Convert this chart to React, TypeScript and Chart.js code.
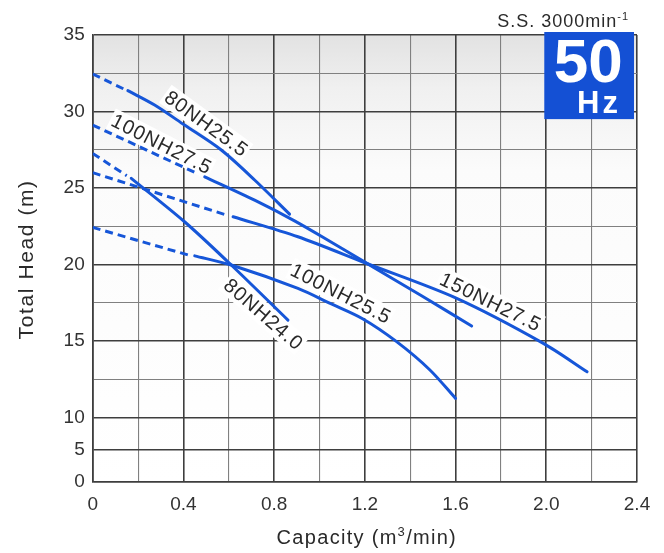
import React, { useEffect, useRef } from 'react';
import { Chart, registerables, LinearScale } from 'chart.js';

Chart.register(...registerables);

// ---------- data ----------
const X_TICKS = [0, 0.2, 0.4, 0.6, 0.8, 1.0, 1.2, 1.4, 1.6, 1.8, 2.0, 2.2, 2.4];
const X_TICK_LABELS = ['0', '', '0.4', '', '0.8', '', '1.2', '', '1.6', '', '2.0', '', '2.4'];
const Y_TICKS = [0, 5, 10, 12.5, 15, 17.5, 20, 22.5, 25, 27.5, 30, 32.5, 35];
const Y_TICK_LABELS = ['0', '5', '10', '', '15', '', '20', '', '25', '', '30', '', '35'];

// [capacity m3/min, total head m]
const DASH_80NH255 = [[0, 32.45], [0.15, 31.38]];
const SOLID_80NH255 = [[0.155, 31.36], [0.273, 30.42], [0.405, 29.11], [0.567, 27.48], [0.714, 25.52], [0.868, 23.29]];

const DASH_100NH275 = [[0, 29.11], [0.46, 25.95]];
const SOLID_100NH275 = [[0.494, 25.73], [0.714, 24.2], [0.89, 22.85], [1.047, 21.5], [1.2, 20.15], [1.45, 17.95], [1.671, 15.97]];

const DASH_150NH275 = [[0, 26.0], [0.6, 23.18]];
const SOLID_150NH275 = [[0.619, 23.12], [0.905, 21.81], [1.2, 20.11], [1.605, 17.78], [1.987, 14.84], [2.18, 12.98]];

const DASH_80NH240 = [[0, 27.26], [0.15, 25.8]];
const SOLID_80NH240 = [[0.17, 25.63], [0.405, 22.79], [0.611, 19.96], [0.861, 16.36]];

const DASH_100NH255 = [[0, 22.42], [0.42, 20.62]];
const SOLID_100NH255 = [[0.45, 20.56], [0.611, 19.96], [0.905, 18.43], [1.047, 17.45], [1.19, 16.45], [1.34, 14.95], [1.487, 13.1], [1.6, 11.24]];

const SERIES_NAMES = ['80NH25.5', '100NH27.5', '150NH27.5', '80NH24.0', '100NH25.5'];
const SERIES_DASH = [DASH_80NH255, DASH_100NH275, DASH_150NH275, DASH_80NH240, DASH_100NH255];
const SERIES_SOLID = [SOLID_80NH255, SOLID_100NH275, SOLID_150NH275, SOLID_80NH240, SOLID_100NH255];

// curve label anchors (data coordinates) and text angles
const LABEL_Q = [0.5, 0.3025, 1.753, 0.752, 1.093];
const LABEL_H = [29.22, 27.87, 17.56, 16.75, 18.1];
const LABEL_ANGLE = [36, 27, 26, 41, 27];

const SPEED_TEXT = 'S.S. 3000min';
const SPEED_SUP = '-1';
const FREQ_MAIN = '50';
const FREQ_UNIT = 'Hz';
const FREQ_BOX_Q = [2.0, 2.4];
const FREQ_BOX_BOTTOM_H = 29.5;

// ---------- styles ----------
const FONT = "'Liberation Sans', Arial, Helvetica, sans-serif";
const BLUE = '#1656d8';
const BOX_BLUE = '#1450d4';
const MAJOR = '#3e3e3e';
const MINOR = '#808080';
const TEXT = '#2a2a2a';

// ---------- broken head scale (0–10 compressed) ----------
const BREAK_VALUE = 10;
const BREAK_SHARE = 0.144;

function headToDecimal(v: number, min: number, max: number) {
  if (v <= BREAK_VALUE) return ((v - min) / (BREAK_VALUE - min)) * BREAK_SHARE;
  return BREAK_SHARE + ((v - BREAK_VALUE) / (max - BREAK_VALUE)) * (1 - BREAK_SHARE);
}
function decimalToHead(d: number, min: number, max: number) {
  if (d <= BREAK_SHARE) return min + (d / BREAK_SHARE) * (BREAK_VALUE - min);
  return BREAK_VALUE + ((d - BREAK_SHARE) / (1 - BREAK_SHARE)) * (max - BREAK_VALUE);
}

class HeadScale extends LinearScale {
  static id = 'head';
  static defaults = LinearScale.defaults;
  buildTicks() {
    (this as any).start = (this as any).min;
    (this as any).end = (this as any).max;
    return Y_TICKS.map((value) => ({ value }));
  }
  getPixelForValue(value: number) {
    return (this as any).getPixelForDecimal(headToDecimal(value, (this as any).min, (this as any).max));
  }
  getValueForPixel(pixel: number) {
    return decimalToHead((this as any).getDecimalForPixel(pixel), (this as any).min, (this as any).max);
  }
}
Chart.register(HeadScale as any);

function drawSpaced(ctx: CanvasRenderingContext2D, text: string, x: number, y: number, spacing: string) {
  (ctx as any).letterSpacing = spacing;
  ctx.fillText(text, x, y);
  (ctx as any).letterSpacing = '0px';
}

const decorPlugin = {
  id: 'decor',
  beforeDraw(chart: any) {
    const { ctx, chartArea: a } = chart;
    ctx.save();
    const g = ctx.createLinearGradient(0, a.top, 0, a.bottom);
    g.addColorStop(0, '#e2e2e2');
    g.addColorStop(0.12, '#f0f0f0');
    g.addColorStop(0.3, '#fbfbfb');
    g.addColorStop(1, '#ffffff');
    ctx.fillStyle = g;
    ctx.fillRect(a.left, a.top, a.right - a.left, a.bottom - a.top);
    ctx.restore();
  },
  beforeDatasetsDraw(chart: any) {
    const { ctx } = chart;
    const x = chart.scales.x;
    const y = chart.scales.y;
    ctx.save();
    ctx.font = `20px ${FONT}`;
    ctx.textAlign = 'left';
    ctx.textBaseline = 'middle';
    (ctx as any).letterSpacing = '1px';
    SERIES_NAMES.forEach((name, i) => {
      const px = x.getPixelForValue(LABEL_Q[i]);
      const py = y.getPixelForValue(LABEL_H[i]);
      ctx.save();
      ctx.translate(px, py);
      ctx.rotate((LABEL_ANGLE[i] * Math.PI) / 180);
      const w = ctx.measureText(name).width - 1;
      ctx.fillStyle = '#ffffff';
      ctx.fillRect(-w / 2 - 2, -11, w + 4, 22);
      ctx.fillStyle = TEXT;
      ctx.fillText(name, -w / 2, 1);
      ctx.restore();
    });
    ctx.restore();
  },
  afterDraw(chart: any) {
    const { ctx, chartArea: a } = chart;
    const x = chart.scales.x;
    const y = chart.scales.y;
    ctx.save();
    ctx.fillStyle = TEXT;

    // x title
    ctx.textBaseline = 'alphabetic';
    ctx.textAlign = 'left';
    const parts = [
      { t: 'Capacity (m', f: `20px ${FONT}`, dy: 0 },
      { t: '3', f: `13px ${FONT}`, dy: -8 },
      { t: '/min)', f: `20px ${FONT}`, dy: 0 },
    ];
    (ctx as any).letterSpacing = '1.3px';
    let total = 0;
    parts.forEach((p) => { ctx.font = p.f; total += ctx.measureText(p.t).width; });
    let cx = (a.left + a.right) / 2 - total / 2 + 2;
    parts.forEach((p) => {
      ctx.font = p.f;
      ctx.fillText(p.t, cx, 544 + p.dy);
      cx += ctx.measureText(p.t).width;
    });

    // y title
    ctx.save();
    ctx.translate(27.5, (a.top + a.bottom) / 2 + 1);
    ctx.rotate(-Math.PI / 2);
    ctx.font = `21px ${FONT}`;
    ctx.textAlign = 'center';
    ctx.textBaseline = 'middle';
    (ctx as any).letterSpacing = '1.6px';
    ctx.fillText('Total Head (m)', 0, 0);
    ctx.restore();

    // speed text
    (ctx as any).letterSpacing = '1px';
    ctx.font = `18px ${FONT}`;
    ctx.textAlign = 'left';
    ctx.textBaseline = 'alphabetic';
    const wMain = ctx.measureText(SPEED_TEXT).width;
    ctx.font = `11px ${FONT}`;
    const wSup = ctx.measureText(SPEED_SUP).width;
    const startX = 629 - wMain - wSup;
    ctx.font = `18px ${FONT}`;
    ctx.fillText(SPEED_TEXT, startX, 27);
    ctx.font = `11px ${FONT}`;
    ctx.fillText(SPEED_SUP, startX + wMain, 20);

    // 50 Hz box
    const bx0 = x.getPixelForValue(FREQ_BOX_Q[0]) - 2;
    const bx1 = x.getPixelForValue(FREQ_BOX_Q[1]) - 3;
    const by0 = a.top - 3;
    const by1 = y.getPixelForValue(FREQ_BOX_BOTTOM_H);
    ctx.fillStyle = BOX_BLUE;
    ctx.fillRect(bx0, by0, bx1 - bx0, by1 - by0);
    ctx.fillStyle = '#ffffff';
    (ctx as any).letterSpacing = '0px';
    ctx.font = `bold 62px ${FONT}`;
    ctx.textAlign = 'center';
    ctx.fillText(FREQ_MAIN, (bx0 + bx1) / 2 - 1, by0 + 50);
    ctx.font = `bold 31px ${FONT}`;
    ctx.textAlign = 'left';
    drawSpaced(ctx, FREQ_UNIT, bx1 - 57, by1 - 6, '3px');
    ctx.restore();
  },
};

export default function App() {
  const ref = useRef<HTMLCanvasElement>(null);
  useEffect(() => {
    if (!ref.current) return;
    const datasets: any[] = [];
    SERIES_NAMES.forEach((name, i) => {
      datasets.push({
        label: name + ' (extrapolated)',
        data: SERIES_DASH[i].map(([q, h]) => ({ x: q, y: h })),
        borderColor: BLUE,
        borderWidth: 3,
        borderDash: [8, 5],
        pointRadius: 0,
        tension: 0,
        fill: false,
      });
      datasets.push({
        label: name,
        data: SERIES_SOLID[i].map(([q, h]) => ({ x: q, y: h })),
        borderColor: BLUE,
        borderWidth: 3,
        pointRadius: 0,
        tension: 0.3,
        borderCapStyle: 'round',
        fill: false,
      });
    });
    const chart = new Chart(ref.current, {
      type: 'line',
      data: { datasets },
      options: {
        animation: false,
        responsive: false,
        events: [],
        layout: { padding: { top: 35, right: 27, left: 0, bottom: 0 } },
        plugins: { legend: { display: false }, tooltip: { enabled: false } },
        scales: {
          x: {
            type: 'linear',
            min: 0,
            max: 2.4,
            afterBuildTicks: (s: any) => { s.ticks = X_TICKS.map((value) => ({ value })); },
            afterFit: (s: any) => { s.height = 71.3; },
            ticks: {
              autoSkip: false,
              maxRotation: 0,
              padding: 12,
              color: '#333',
              font: { family: FONT, size: 19 },
              callback: (_v: any, i: number) => X_TICK_LABELS[i] ?? '',
            },
            grid: {
              drawTicks: false,
              color: (c: any) => (c.tick && Math.round(c.tick.value * 10) % 4 === 0 ? MAJOR : MINOR),
              lineWidth: (c: any) => (c.tick && Math.round(c.tick.value * 10) % 4 === 0 ? 1.6 : 1.1),
            },
            border: { color: MAJOR, width: 1.6 },
          },
          y: {
            type: 'head' as any,
            min: 0,
            max: 35,
            afterFit: (s: any) => { s.width = 92.7; },
            ticks: {
              autoSkip: false,
              padding: 8,
              color: '#333',
              font: { family: FONT, size: 19 },
              callback: (_v: any, i: number) => Y_TICK_LABELS[i] ?? '',
            },
            grid: {
              drawTicks: false,
              color: (c: any) => (c.tick && c.tick.value % 5 === 0 ? MAJOR : MINOR),
              lineWidth: (c: any) => (c.tick && c.tick.value % 5 === 0 ? 1.6 : 1.1),
            },
            border: { color: MAJOR, width: 1.6 },
          },
        },
      },
      plugins: [decorPlugin as any],
    } as any);
    return () => chart.destroy();
  }, []);
  return (
    <div style={{ position: 'absolute', left: 0, top: 0, width: 664, height: 553, background: '#fff' }}>
      <canvas ref={ref} width={664} height={553} style={{ width: 664, height: 553, display: 'block' }} />
    </div>
  );
}
